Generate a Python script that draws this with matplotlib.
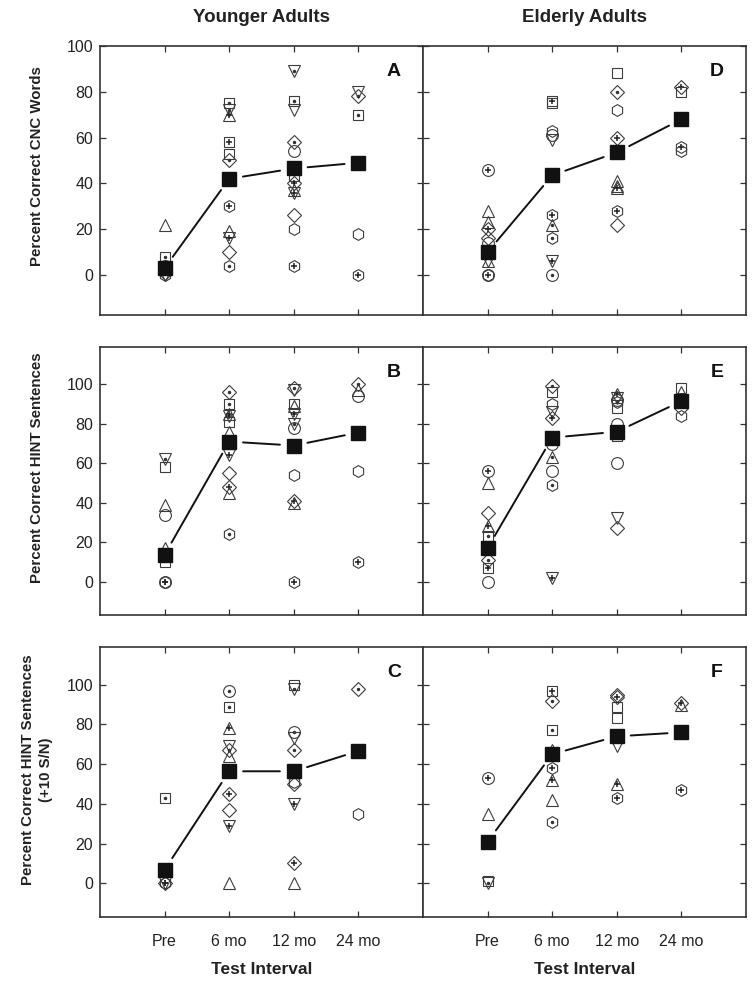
import matplotlib
matplotlib.use("Agg")
import matplotlib.pyplot as plt

plt.rcParams['font.family'] = ['Liberation Sans', 'DejaVu Sans']

intervals = ["Pre", "6 mo", "12 mo", "24 mo"]

# (interval, percent correct, subject symbol code: shape + inner mark)
younger_cnc = [
    ("Pre", 22, '^'), ("Pre", 8, 's.'), ("Pre", 4, 'o'), ("Pre", 1, 'D'), ("Pre", 0, 'h'), ("Pre", 0, 'v'),
    ("6 mo", 75, 's.'), ("6 mo", 72, 'v.'), ("6 mo", 70, '^+'), ("6 mo", 58, 's+'), ("6 mo", 53, 's'),
    ("6 mo", 50, 'D.'), ("6 mo", 30, 'h+'), ("6 mo", 19, '^'), ("6 mo", 16, 'v+'), ("6 mo", 10, 'D'), ("6 mo", 4, 'h.'),
    ("12 mo", 89, 'v.'), ("12 mo", 76, 's.'), ("12 mo", 72, 'v'), ("12 mo", 58, 'D.'), ("12 mo", 54, 'o'),
    ("12 mo", 43, 's'), ("12 mo", 40, 'D+'), ("12 mo", 37, '^'), ("12 mo", 36, 'v+'), ("12 mo", 26, 'D'),
    ("12 mo", 20, 'h'), ("12 mo", 4, 'h+'),
    ("24 mo", 80, 'v'), ("24 mo", 78, 'D.'), ("24 mo", 70, 's.'), ("24 mo", 18, 'h'), ("24 mo", 0, 'h+'),
]
younger_cnc_mean = [3, 42, 46.5, 49]

elderly_cnc = [
    ("Pre", 46, 'o+'), ("Pre", 28, '^'), ("Pre", 23, '^'), ("Pre", 20, 'D+'), ("Pre", 16, 'D'), ("Pre", 14, 'o'),
    ("Pre", 6, 'v'), ("Pre", 6, '^'), ("Pre", 0, 'h+'), ("Pre", 0, 'o'),
    ("6 mo", 76, 's+'), ("6 mo", 75, 's'), ("6 mo", 63, 'h'), ("6 mo", 61, 'o'), ("6 mo", 59, 'v'),
    ("6 mo", 26, 'h+'), ("6 mo", 22, '^.'), ("6 mo", 16, 'h.'), ("6 mo", 6, 'v+'), ("6 mo", 0, 'o.'),
    ("12 mo", 88, 's'), ("12 mo", 80, 'D.'), ("12 mo", 72, 'h'), ("12 mo", 60, 'D+'), ("12 mo", 41, '^'),
    ("12 mo", 39, '^'), ("12 mo", 38, '^+'), ("12 mo", 28, 'h+'), ("12 mo", 22, 'D'),
    ("24 mo", 82, 'D+'), ("24 mo", 80, 's'), ("24 mo", 56, 'h+'), ("24 mo", 54, 'h'),
]
elderly_cnc_mean = [10, 43.5, 53.5, 68]

younger_hint = [
    ("Pre", 62, 'v.'), ("Pre", 58, 's'), ("Pre", 39, '^'), ("Pre", 34, 'o'), ("Pre", 17, '^'), ("Pre", 10, 's'),
    ("Pre", 0, 'h+'), ("Pre", 0, 'o+'),
    ("6 mo", 96, 'D.'), ("6 mo", 90, 's.'), ("6 mo", 85, '^+'), ("6 mo", 84, 'v+'), ("6 mo", 81, 's'),
    ("6 mo", 76, '^'), ("6 mo", 64, 'v+'), ("6 mo", 55, 'D'), ("6 mo", 48, 'D+'), ("6 mo", 45, '^'), ("6 mo", 24, 'h.'),
    ("12 mo", 98, 'D.'), ("12 mo", 97, 'v'), ("12 mo", 90, 's'), ("12 mo", 89, '^'), ("12 mo", 85, 'v+'),
    ("12 mo", 80, 'v.'), ("12 mo", 78, 'o'), ("12 mo", 54, 'h'), ("12 mo", 41, 'D+'), ("12 mo", 40, '^'), ("12 mo", 0, 'h+'),
    ("24 mo", 100, 'D.'), ("24 mo", 97, '^'), ("24 mo", 94, 'o'), ("24 mo", 56, 'h'), ("24 mo", 10, 'h+'),
]
younger_hint_mean = [13.6, 71, 69, 75.6]

elderly_hint = [
    ("Pre", 56, 'o+'), ("Pre", 50, '^'), ("Pre", 35, 'D'), ("Pre", 28, '^+'), ("Pre", 23, 's.'), ("Pre", 11, 'D.'),
    ("Pre", 7, 's+'), ("Pre", 0, 'o'),
    ("6 mo", 99, 'D.'), ("6 mo", 96, 's'), ("6 mo", 90, 'h'), ("6 mo", 86, 'v'), ("6 mo", 83, 'D+'),
    ("6 mo", 70, 'o'), ("6 mo", 63, '^.'), ("6 mo", 56, 'o'), ("6 mo", 49, 'h.'), ("6 mo", 2, 'v+'),
    ("12 mo", 95, '^+'), ("12 mo", 93, 'v'), ("12 mo", 92, 'o'), ("12 mo", 91, 'h.'), ("12 mo", 88, 's'),
    ("12 mo", 80, 'o'), ("12 mo", 74, 's'), ("12 mo", 60, 'o'), ("12 mo", 32, 'v'), ("12 mo", 27, 'D'),
    ("24 mo", 98, 's'), ("24 mo", 96, '^'), ("24 mo", 88, 'D'), ("24 mo", 84, 'h'),
]
elderly_hint_mean = [17, 73, 76, 91.5]

younger_hint10 = [
    ("Pre", 43, 's.'), ("Pre", 0, 'v+'), ("Pre", 0, 'h+'), ("Pre", 0, 'D'),
    ("6 mo", 97, 'o.'), ("6 mo", 89, 's.'), ("6 mo", 78, '^+'), ("6 mo", 69, 'v'), ("6 mo", 67, 'D.'),
    ("6 mo", 64, '^'), ("6 mo", 45, 'D+'), ("6 mo", 37, 'D'), ("6 mo", 29, 'v+'), ("6 mo", 0, '^'),
    ("12 mo", 100, 's'), ("12 mo", 98, 'v.'), ("12 mo", 76, 'o.'), ("12 mo", 73, 'v'), ("12 mo", 67, 'D.'),
    ("12 mo", 51, 'h'), ("12 mo", 50, 'D'), ("12 mo", 40, 'v+'), ("12 mo", 10, 'D+'), ("12 mo", 0, '^'),
    ("24 mo", 98, 'D.'), ("24 mo", 35, 'h'),
]
younger_hint10_mean = [6.8, 56.4, 56.4, 66.6]

elderly_hint10 = [
    ("Pre", 53, 'o+'), ("Pre", 35, '^'), ("Pre", 1, 's'), ("Pre", 0, 'v.'),
    ("6 mo", 97, 's+'), ("6 mo", 92, 'D.'), ("6 mo", 77, 's.'), ("6 mo", 67, '^'), ("6 mo", 58, 'h+'),
    ("6 mo", 52, '^+'), ("6 mo", 42, '^'), ("6 mo", 31, 'h.'),
    ("12 mo", 95, 'D'), ("12 mo", 94, 'D+'), ("12 mo", 89, 's'), ("12 mo", 83, 's'), ("12 mo", 69, 'v'),
    ("12 mo", 50, '^+'), ("12 mo", 43, 'h+'),
    ("24 mo", 91, 'D+'), ("24 mo", 90, '^'), ("24 mo", 47, 'h+'),
]
elderly_hint10_mean = [21, 65, 74, 76]

col_titles = ["Younger Adults", "Elderly Adults"]
row_labels = ["Percent Correct CNC Words", "Percent Correct HINT Sentences",
              "Percent Correct HINT Sentences\n(+10 S/N)"]
panel_letters = [["A", "D"], ["B", "E"], ["C", "F"]]
yticks = [0, 20, 40, 60, 80, 100]

W, H = 756, 985
fig = plt.figure(figsize=(W / 100, H / 100), dpi=100)

def frac_box(x0, y0, x1, y1):
    return [x0 / W, 1 - y1 / H, (x1 - x0) / W, (y1 - y0) / H]

col_px = [(100, 423), (423, 746)]
row_px = [(46, 315), (347, 615), (647, 917)]
ylims = [(-17.5, 100), (-17, 119), (-17, 119)]

data = [[(younger_cnc, younger_cnc_mean), (elderly_cnc, elderly_cnc_mean)],
        [(younger_hint, younger_hint_mean), (elderly_hint, elderly_hint_mean)],
        [(younger_hint10, younger_hint10_mean), (elderly_hint10, elderly_hint10_mean)]]

MK = {'o': 'o', 's': 's', '^': '^', 'v': 'v', 'D': 'D', 'h': 'h'}
SZ = {'o': 8.5, 's': 7.5, '^': 8.5, 'v': 8.5, 'D': 7.0, 'h': 8.5}
EC = '#3c3c3c'

for r in range(3):
    for c in range(2):
        (x0, x1), (y0, y1) = col_px[c], row_px[r]
        ax = fig.add_axes(frac_box(x0, y0, x1, y1))
        pts, means = data[r][c]
        for label, val, code in pts:
            x = intervals.index(label) + 1
            shape, inner = code[0], code[1:]
            ax.plot([x], [val], marker=MK[shape], ms=SZ[shape], mfc='none', mec=EC,
                    mew=0.8, ls='none', zorder=2)
            if inner == '.':
                ax.plot([x], [val], marker='o', ms=1.5, color='#333333', ls='none', zorder=2)
            elif inner == '+':
                ax.plot([x], [val], marker='+', ms=5, mew=1.1, color='#222222', ls='none', zorder=2)
        xs = list(range(1, len(means) + 1))
        for i in range(len(means) - 1):
            ax.annotate('', xy=(xs[i + 1], means[i + 1]), xytext=(xs[i], means[i]),
                        arrowprops=dict(arrowstyle='-', color='#111111', lw=1.4,
                                        shrinkA=10, shrinkB=10), zorder=3)
        ax.plot(xs, means, ls='none', marker='s', ms=9.5, color='#111111', zorder=5)
        ax.set_xlim(0, 5)
        ax.set_ylim(*ylims[r])
        ax.set_xticks([1, 2, 3, 4])
        ax.set_yticks(yticks)
        ax.tick_params(direction='in', top=True, right=True, length=4, width=0.9,
                       color='#333333', labelsize=11.5, labelcolor='#222222', pad=5)
        if r == 2:
            ax.set_xticklabels(intervals)
            ax.tick_params(axis='x', pad=12)
        else:
            ax.set_xticklabels([])
        if c == 1:
            ax.set_yticklabels([])
        for sp in ax.spines.values():
            sp.set_linewidth(1.2)
            sp.set_color('#333333')
        ax.text(0.91, 0.905, panel_letters[r][c], transform=ax.transAxes, ha='center',
                va='center', fontsize=14, fontweight='bold', color='#111111')
        if r == 0:
            ax.text(0.5, 1.0 + 29 / (y1 - y0), col_titles[c], transform=ax.transAxes,
                    ha='center', va='center', fontsize=13.5, fontweight='bold', color='#222222')
        if r == 2:
            ax.text(0.5, -52 / (y1 - y0), "Test Interval", transform=ax.transAxes,
                    ha='center', va='center', fontsize=12.5, fontweight='bold', color='#222222')

fig.text(37 / W, 1 - 166 / H, row_labels[0], rotation=90, ha='center', va='center',
         fontsize=10.8, fontweight='bold', color='#222222')
fig.text(37 / W, 1 - 468 / H, row_labels[1], rotation=90, ha='center', va='center',
         fontsize=10.8, fontweight='bold', color='#222222')
fig.text(37 / W, 1 - 770 / H, row_labels[2], rotation=90, ha='center', va='center',
         fontsize=10.8, fontweight='bold', color='#222222', multialignment='center',
         linespacing=1.3)

fig.savefig("out.png", dpi=100)
